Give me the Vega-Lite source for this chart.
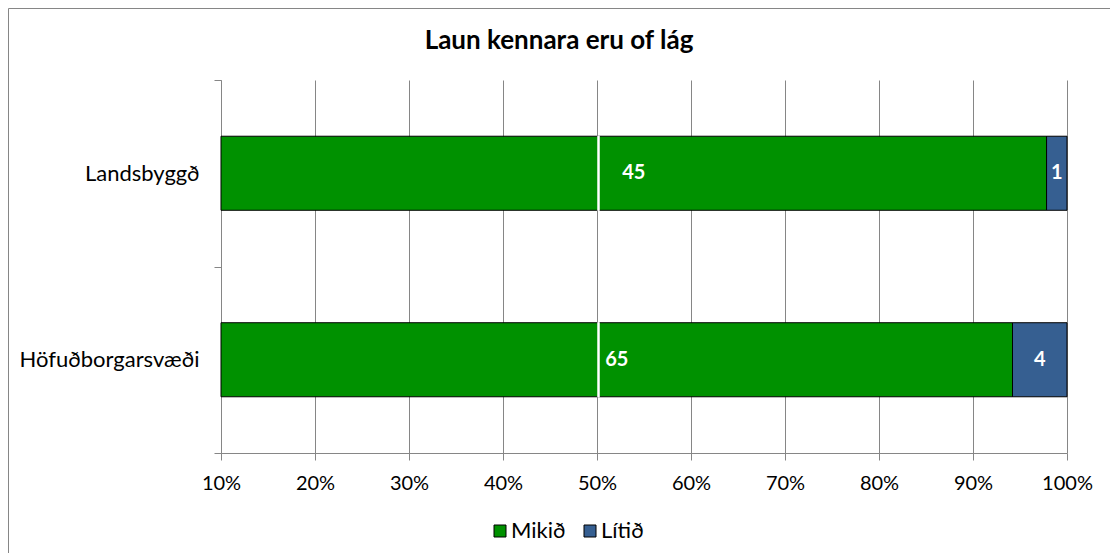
{
  "$schema": "https://vega.github.io/schema/vega-lite/v6.json",
  "width": 1102,
  "height": 545,
  "autosize": {"type": "none"},
  "padding": {"left": 8, "top": 8, "right": 0, "bottom": 0},
  "background": "white",
  "config": {
    "view": {"stroke": "#868686", "strokeWidth": 1, "strokeDash": [1102, 1647, 545, 0], "fill": "white"},
    "font": "Lato"
  },
  "title": {
    "text": "Laun kennara eru of lág",
    "font": "Lato",
    "fontSize": 26,
    "fontWeight": "bold",
    "color": "#000",
    "anchor": "middle",
    "frame": "group",
    "offset": -78,
    "baseline": "alphabetic"
  },
  "data": {
    "values": [
      {"region": "Landsbyggð", "level": "Mikið", "n": 45},
      {"region": "Landsbyggð", "level": "Lítið", "n": 1},
      {"region": "Höfuðborgarsvæði", "level": "Mikið", "n": 65},
      {"region": "Höfuðborgarsvæði", "level": "Lítið", "n": 4}
    ]
  },
  "transform": [
    {"stack": "n", "groupby": ["region"], "sort": [{"field": "level", "order": "descending"}], "offset": "normalize", "as": ["s0", "s1"]},
    {"calculate": "(max(datum.s0, 0.1) + datum.s1) / 2", "as": "mid"}
  ],
  "encoding": {
    "y": {
      "field": "region",
      "type": "nominal",
      "sort": ["Landsbyggð", "Höfuðborgarsvæði"],
      "scale": {"range": [72, 445], "paddingInner": 0, "paddingOuter": 0},
      "axis": {
        "orient": "left",
        "offset": -213,
        "tickBand": "extent",
        "domainColor": "#868686",
        "tickColor": "#868686",
        "tickSize": 7,
        "labelPadding": 15,
        "labelFontSize": 22,
        "labelFont": "Lato",
        "labelColor": "#000",
        "title": null,
        "grid": false
      }
    }
  },
  "layer": [
    {
      "mark": {"type": "bar", "stroke": "#000", "strokeWidth": 1, "height": {"band": 0.397}},
      "encoding": {
        "x": {
          "field": "s0",
          "type": "quantitative",
          "scale": {"domain": [0.1, 1], "range": [213, 1059], "clamp": true, "nice": false, "zero": false},
          "axis": {
            "orient": "bottom",
            "offset": -100,
            "values": [0.1, 0.2, 0.3, 0.4, 0.5, 0.6, 0.7, 0.8, 0.9, 1.0],
            "format": ".0%",
            "grid": false,
            "domainColor": "#868686",
            "tickColor": "#868686",
            "tickSize": 7,
            "labelPadding": 13,
            "labelFontSize": 20,
            "labelFont": "Lato",
            "labelColor": "#000",
            "labelFlush": false,
            "labelOverlap": false,
            "title": null
          }
        },
        "x2": {"field": "s1"},
        "color": {
          "field": "level",
          "type": "nominal",
          "scale": {"domain": ["Mikið", "Lítið"], "range": ["#009100", "#365f91"]},
          "legend": {
            "orient": "none",
            "legendX": 481,
            "legendY": 512,
            "direction": "horizontal",
            "title": null,
            "symbolType": "square",
            "symbolSize": 144,
            "symbolStrokeColor": "#000",
            "symbolStrokeWidth": 1,
            "symbolOpacity": 1,
            "labelFontSize": 22,
            "labelFont": "Lato",
            "labelColor": "#000",
            "columnPadding": 13,
            "labelOffset": 0,
            "padding": 0
          }
        }
      }
    },
    {
      "mark": {"type": "tick", "color": "white", "thickness": 2, "size": 75, "opacity": 1},
      "encoding": {
        "x": {
          "datum": 0.5016,
          "type": "quantitative",
          "scale": {"domain": [0.1, 1], "range": [213, 1059], "clamp": true, "nice": false, "zero": false},
          "axis": {
            "orient": "top",
            "values": [0.1, 0.2, 0.3, 0.4, 0.5, 0.6, 0.7, 0.8, 0.9, 1.0],
            "grid": true,
            "gridColor": "#868686",
            "gridOpacity": 1,
            "domain": false,
            "ticks": false,
            "labels": false,
            "title": null
          }
        }
      }
    },
    {
      "mark": {"type": "text", "color": "white", "fontWeight": "bold", "fontSize": 20, "font": "Lato", "align": "center", "baseline": "middle"},
      "encoding": {
        "x": {"field": "mid", "type": "quantitative", "scale": {"domain": [0.1, 1], "range": [213, 1059], "clamp": true, "nice": false, "zero": false}, "axis": null},
        "text": {"field": "n", "type": "quantitative"}
      }
    }
  ],
  "resolve": {"axis": {"x": "independent"}}
}
